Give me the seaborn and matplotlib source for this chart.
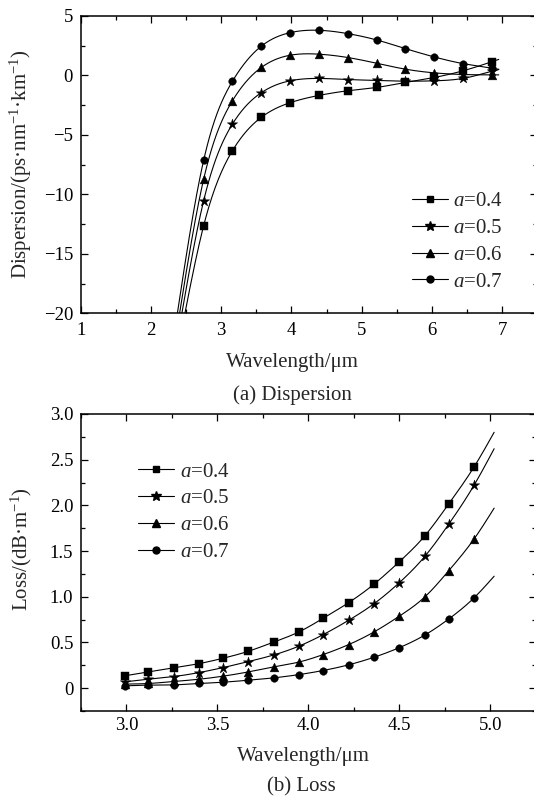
import numpy as np
import matplotlib
matplotlib.use("Agg")
import matplotlib.pyplot as plt
from matplotlib.lines import Line2D
from matplotlib.ticker import MultipleLocator, FixedLocator, FixedFormatter
import seaborn as sns

# ---------------- data ----------------
series_labels = ["$a$=0.4", "$a$=0.5", "$a$=0.6", "$a$=0.7"]
series_markers = ["s", "*", "^", "o"]

# (a) Dispersion
disp_x = [2.75, 3.16, 3.57, 3.98, 4.39, 4.80, 5.21, 5.62, 6.03, 6.44, 6.85]
disp_a04 = [-12.63, -6.32, -3.52, -2.29, -1.68, -1.29, -1.01, -0.59, -0.17, 0.39, 1.15]
disp_a05 = [-10.53, -4.08, -1.45, -0.45, -0.25, -0.34, -0.42, -0.48, -0.45, -0.25, 0.35]
disp_a06 = [-8.72, -2.12, 0.67, 1.70, 1.79, 1.51, 1.03, 0.53, 0.22, 0.08, 0.05]
disp_a07 = [-7.13, -0.48, 2.46, 3.60, 3.80, 3.52, 2.99, 2.26, 1.56, 1.00, 0.62]
# curve extensions beyond the first/last symbol
disp_start_x = [2.45, 2.41, 2.38, 2.35]
disp_start_y = [-21.0, -21.0, -21.0, -21.0]
disp_end_x = [6.95, 6.95, 6.95, 6.95]
disp_end_y = [1.35, 0.50, 0.05, 0.52]

# (b) Loss
loss_x = [2.99, 3.12, 3.26, 3.40, 3.53, 3.67, 3.81, 3.95, 4.08, 4.22, 4.36, 4.50, 4.64, 4.77, 4.91]
loss_a04 = [0.135, 0.178, 0.222, 0.269, 0.327, 0.404, 0.505, 0.618, 0.764, 0.935, 1.138, 1.385, 1.669, 2.015, 2.422]
loss_a05 = [0.069, 0.098, 0.127, 0.171, 0.225, 0.291, 0.364, 0.462, 0.585, 0.742, 0.924, 1.156, 1.444, 1.793, 2.222]
loss_a06 = [0.044, 0.051, 0.073, 0.098, 0.131, 0.178, 0.233, 0.287, 0.367, 0.476, 0.615, 0.789, 1.000, 1.284, 1.633]
loss_a07 = [0.025, 0.033, 0.036, 0.051, 0.065, 0.087, 0.113, 0.149, 0.193, 0.255, 0.338, 0.444, 0.582, 0.756, 0.989]
loss_end_x = [5.02, 5.02, 5.02, 5.02]
loss_end_y = [2.80, 2.62, 1.97, 1.225]

disp_yticks = [-20, -15, -10, -5, 0, 5]
disp_xticks = [1, 2, 3, 4, 5, 6, 7]
loss_xticks = [3.0, 3.5, 4.0, 4.5, 5.0]
loss_xticklabels = ["3.0", "3.5", "4.0", "4.5", "5.0"]
loss_yticks = [0, 0.5, 1.0, 1.5, 2.0, 2.5, 3.0]
loss_yticklabels = ["0", "0.5", "1.0", "1.5", "2.0", "2.5", "3.0"]

# ---------------- style ----------------
sns.set_theme(style="ticks")
plt.rcParams["font.family"] = ["Liberation Serif", "DejaVu Serif"]
plt.rcParams["mathtext.fontset"] = "custom"
plt.rcParams["mathtext.rm"] = "Liberation Serif"
plt.rcParams["mathtext.it"] = "Liberation Serif:italic"
plt.rcParams["axes.unicode_minus"] = True


def smooth(x, y, n=400):
    """natural cubic spline through the given points (for drawing the connecting curve)"""
    x = np.asarray(x, float)
    y = np.asarray(y, float)
    k = len(x)
    h = np.diff(x)
    A = np.zeros((k, k))
    b = np.zeros(k)
    A[0, 0] = A[-1, -1] = 1.0
    for i in range(1, k - 1):
        A[i, i - 1] = h[i - 1]
        A[i, i] = 2 * (h[i - 1] + h[i])
        A[i, i + 1] = h[i]
        b[i] = 3 * ((y[i + 1] - y[i]) / h[i] - (y[i] - y[i - 1]) / h[i - 1])
    c = np.linalg.solve(A, b)
    bc = (y[1:] - y[:-1]) / h - h * (2 * c[:-1] + c[1:]) / 3
    d = (c[1:] - c[:-1]) / (3 * h)
    xs = np.linspace(x[0], x[-1], n)
    idx = np.clip(np.searchsorted(x, xs) - 1, 0, k - 2)
    dx = xs - x[idx]
    ys = y[idx] + bc[idx] * dx + c[idx] * dx ** 2 + d[idx] * dx ** 3
    return xs, ys


W, H = 534, 799
fig = plt.figure(figsize=(W / 100, H / 100), dpi=100)

def px_axes(left, top, right, bottom):
    return fig.add_axes([left / W, 1 - bottom / H, (right - left) / W, (bottom - top) / H])

ax1 = px_axes(80.7, 16.0, 537.4, 313.3)
ax2 = px_axes(81.0, 414.0, 536.0, 711.0)

msizes = {"s": 30, "*": 62, "^": 40, "o": 30}
lw = 0.8

# panel (a)
disp_all = [disp_a04, disp_a05, disp_a06, disp_a07]
for i, ys in enumerate(disp_all):
    lx = [disp_start_x[i]] + disp_x + [disp_end_x[i]]
    ly = [disp_start_y[i]] + ys + [disp_end_y[i]]
    sx, sy = smooth(lx, ly)
    sns.lineplot(x=sx, y=sy, ax=ax1, color="black", lw=lw, sort=False, estimator=None)
    sns.scatterplot(x=disp_x, y=ys, ax=ax1, marker=series_markers[i], s=msizes[series_markers[i]],
                    color="black", edgecolor="black", linewidth=0.3, zorder=3)

# panel (b)
loss_all = [loss_a04, loss_a05, loss_a06, loss_a07]
for i, ys in enumerate(loss_all):
    lx = loss_x + [loss_end_x[i]]
    ly = ys + [loss_end_y[i]]
    sx, sy = smooth(lx, ly)
    sns.lineplot(x=sx, y=sy, ax=ax2, color="black", lw=lw, sort=False, estimator=None)
    sns.scatterplot(x=loss_x, y=ys, ax=ax2, marker=series_markers[i], s=msizes[series_markers[i]],
                    color="black", edgecolor="black", linewidth=0.3, zorder=3)

ax1.set_xlim(1, 7.5)
ax1.set_ylim(-20, 5)
ax1.xaxis.set_major_locator(FixedLocator(disp_xticks))
ax1.xaxis.set_minor_locator(MultipleLocator(0.5))
ax1.yaxis.set_major_locator(FixedLocator(disp_yticks))
ax1.yaxis.set_minor_locator(MultipleLocator(2.5))

ax2.set_xlim(2.75, 5.25)
ax2.set_ylim(-0.25, 3.0)
ax2.xaxis.set_major_locator(FixedLocator(loss_xticks))
ax2.xaxis.set_major_formatter(FixedFormatter(loss_xticklabels))
ax2.xaxis.set_minor_locator(MultipleLocator(0.25))
ax2.yaxis.set_major_locator(FixedLocator(loss_yticks))
ax2.yaxis.set_major_formatter(FixedFormatter(loss_yticklabels))
ax2.yaxis.set_minor_locator(MultipleLocator(0.25))

for ax, xpad in ((ax1, 6.0), (ax2, 4.5)):
    for sp in ax.spines.values():
        sp.set_visible(True)
        sp.set_linewidth(1.1)
        sp.set_color("black")
    ax.tick_params(which="both", direction="in", top=True, right=True, colors="black",
                   labelsize=13.5, width=0.9)
    ax.tick_params(which="major", length=5)
    ax.tick_params(which="minor", length=3)
    ax.tick_params(axis="y", which="both", pad=5.5)
    ax.tick_params(axis="x", which="both", pad=xpad)
    ax.set_facecolor("white")

# axis labels
ax1.set_xlabel("Wavelength/μm", fontsize=15)
ax1.xaxis.label.set_va("center")
ax1.xaxis.set_label_coords((292 - 80.7) / (537.4 - 80.7), (313.3 - 362) / 297.3)
ax1.set_ylabel("Dispersion/(ps·nm$^{-1}$·km$^{-1}$)", fontsize=15)
ax1.yaxis.label.set_va("center")
ax1.yaxis.set_label_coords((21 - 80.7) / (537.4 - 80.7), (313.3 - 164) / 297.3)

ax2.set_xlabel("Wavelength/μm", fontsize=15)
ax2.xaxis.label.set_va("center")
ax2.xaxis.set_label_coords((303 - 81) / (536 - 81), (711 - 756) / 297.0)
ax2.set_ylabel("Loss/(dB·m$^{-1}$)", fontsize=15)
ax2.yaxis.label.set_va("center")
ax2.yaxis.set_label_coords((21 - 81) / (536 - 81), (711 - 549) / 297.0)

fig.text(292 / W, 1 - 395 / H, "(a) Dispersion", fontsize=15, ha="center", va="center")
fig.text(301 / W, 1 - 787 / H, "(b) Loss", fontsize=15, ha="center", va="center")

# legends
def handles():
    hs = []
    for m, lab in zip(series_markers, series_labels):
        ms = {"s": 5.0, "*": 7.0, "^": 5.5, "o": 5.0}[m]
        hs.append(Line2D([], [], color="black", lw=lw, marker=m, markersize=ms, label=lab))
    return hs

leg_kw = dict(frameon=False, fontsize=15, handlelength=1.75, handletextpad=0.25,
              labelspacing=0.35, borderpad=0, borderaxespad=0, loc="upper left",
              bbox_transform=fig.transFigure)
ax1.legend(handles=handles(), bbox_to_anchor=(411.5 / W, 1 - 191.5 / H), **leg_kw)
ax2.legend(handles=handles(), bbox_to_anchor=(138 / W, 1 - 462 / H), **leg_kw)

fig.savefig("out.png", dpi=100, facecolor="white")
